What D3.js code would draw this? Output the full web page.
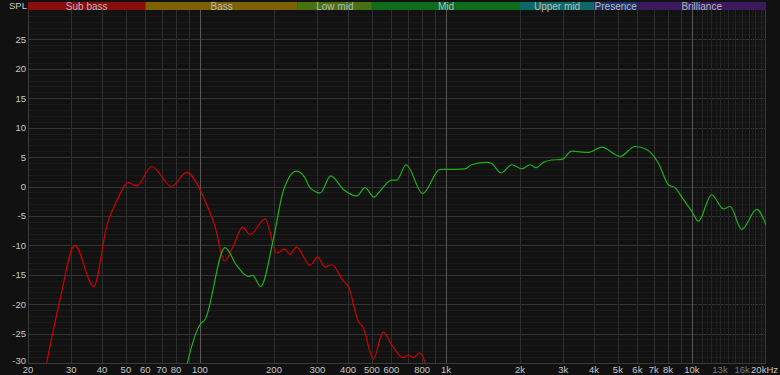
<!DOCTYPE html>
<html>
<head>
<meta charset="utf-8">
<script src="https://cdn.jsdelivr.net/npm/d3@7"></script>
<style>
  html, body { margin: 0; padding: 0; background: #111111; }
  svg { display: block; font-family: "Liberation Sans", Arial, sans-serif; }
</style>
</head>
<body>
<svg id="chart" width="780" height="375"></svg>
<script>
// Frequency bands shown across the top
const bandNames = ["Sub bass", "Bass", "Low mid", "Mid", "Upper mid", "Presence", "Brilliance"];
const bandEdges = [20, 60, 250, 500, 2000, 4000, 6000, 20000];
const bandColors = ["#8a0c0c", "#7c6107", "#497111", "#0e6c1b", "#0d6965", "#19336f", "#3a1a5c"];

// Axis ticks
const yTicks = [25, 20, 15, 10, 5, 0, -5, -10, -15, -20, -25, -30];
const xTickValues = [20, 30, 40, 50, 60, 70, 80, 100, 200, 300, 400, 500, 600, 800,
  1000, 2000, 3000, 4000, 5000, 6000, 7000, 8000, 10000, 13000, 16000, 20000];
const xTickLabels = ["20", "30", "40", "50", "60", "70", "80", "100", "200", "300", "400", "500", "600", "800",
  "1k", "2k", "3k", "4k", "5k", "6k", "7k", "8k", "10k", "13k", "16k", "20kHz"];

// Red trace (low-pass) : frequency Hz, SPL dB
const redFreq = [20, 23.8, 27, 31, 37, 41.8, 46.6, 51, 55.3, 63.7, 76.7, 88.3, 100, 105, 115, 126, 136.7,
  149, 160, 184, 205, 221, 232, 247, 280, 301, 322, 343, 383, 401, 440, 461, 507, 556, 601, 671, 703,
  737, 780, 822, 860];
const redDb = [-45, -30, -19.2, -10, -17, -6.7, -1.9, 0.7, 0.1, 3.4, 0, 2.4, -0.5, -2.5, -6.7, -12.7, -10.1,
  -6.9, -8.2, -5.5, -11.3, -10.6, -11.6, -10.3, -13.4, -12.0, -13.7, -13.3, -16.1, -17, -22.9, -24, -29.3,
  -24.7, -26.9, -29.1, -28.6, -29.1, -28.3, -30, -34];

// Green trace (high-pass)
const greenFreq = [80, 88.9, 100, 104.9, 126.4, 141, 157, 163.7, 176.5, 198.7, 218, 247, 267, 280, 308,
  340, 383, 434, 469, 510, 539, 601, 631, 689, 804, 946, 1000, 1195, 1271, 1466, 1535, 1673, 1852, 2033,
  2199, 2325, 2490, 2693, 2958, 3246, 3797, 4300, 5105, 5866, 6546, 7300, 8020, 8537, 9226, 9980, 10620,
  12025, 13420, 14290, 15930, 18340, 20000];
const greenDb = [-40, -30, -23.5, -22.6, -10.4, -13.4, -15.3, -15.1, -17, -9, -0.8, 2.6, 1.5, -0.2, -1.1,
  1.8, -0.5, -1.6, -0.2, -1.8, -0.8, 1.1, 1.1, 3.7, -1.2, 2.9, 2.9, 3.0, 3.7, 4.1, 3.9, 2.3, 3.7, 3.0,
  3.7, 3.2, 4.1, 4.5, 4.6, 6.0, 5.8, 6.7, 5.1, 6.8, 6.3, 4.0, 0.3, -0.2, -2.2, -4.2, -5.9,
  -1.4, -3.8, -3.4, -7.3, -3.9, -6.5];

const svg = d3.select("#chart");
const plotLeft = 28, plotRight = 766, plotTop = 10, plotBottom = 363;

const x = d3.scaleLog().domain([20, 20000]).range([plotLeft, plotRight]);
const y = d3.scaleLinear().domain([-30, 30]).range([plotBottom, plotTop]);

// plot background
svg.append("rect")
  .attr("x", plotLeft).attr("y", plotTop)
  .attr("width", plotRight - plotLeft).attr("height", plotBottom - plotTop)
  .attr("fill", "#121212");

const grid = svg.append("g");

function hline(d, color) {
  grid.append("line")
    .attr("x1", plotLeft).attr("x2", plotRight)
    .attr("y1", Math.round(y(d)) + 0.5).attr("y2", Math.round(y(d)) + 0.5)
    .attr("stroke", color);
}
function vline(f, color) {
  grid.append("line")
    .attr("x1", Math.round(x(f)) + 0.5).attr("x2", Math.round(x(f)) + 0.5)
    .attr("y1", plotTop).attr("y2", plotBottom)
    .attr("stroke", color);
}

// faint 1 dB lines, then 5 dB lines
d3.range(-29, 30).filter(d => d % 5 !== 0).forEach(d => hline(d, "#1b1b1b"));
d3.range(-25, 30, 5).forEach(d => hline(d, "#343434"));

// faint minor vertical lines above 10k
d3.range(10500, 20000, 500).forEach(f => vline(f, f % 1000 === 0 ? "#262626" : "#1b1b1b"));
// 2..9 x decade lines
[10, 100, 1000].forEach(dec => {
  d3.range(2, 10).forEach(m => {
    const f = m * dec;
    if (f < 20 || f > 20000) return;
    vline(f, "#2e2e2e");
  });
});
// decade lines
[100, 1000, 10000].forEach(f => vline(f, "#575757"));

// frame
svg.append("line").attr("x1", plotLeft + 0.5).attr("x2", plotLeft + 0.5).attr("y1", plotTop).attr("y2", plotBottom).attr("stroke", "#3a3a3a");
svg.append("line").attr("x1", plotRight - 0.5).attr("x2", plotRight - 0.5).attr("y1", plotTop).attr("y2", plotBottom).attr("stroke", "#3a3a3a");
svg.append("line").attr("x1", plotLeft).attr("x2", plotRight).attr("y1", plotBottom + 0.5).attr("y2", plotBottom + 0.5).attr("stroke", "#3a3a3a");

// band bar
const bands = svg.append("g");
bandNames.forEach((name, i) => {
  const x0 = x(bandEdges[i]), x1 = x(bandEdges[i + 1]);
  bands.append("rect")
    .attr("x", x0).attr("y", 2)
    .attr("width", x1 - x0).attr("height", 8)
    .attr("fill", bandColors[i]);
  bands.append("text")
    .attr("x", (x0 + x1) / 2).attr("y", 9.5)
    .attr("text-anchor", "middle")
    .attr("font-size", "10px")
    .attr("fill", "#b8b8b8")
    .text(name);
});

// traces
const clip = svg.append("clipPath").attr("id", "plotclip");
clip.append("rect").attr("x", plotLeft).attr("y", plotTop).attr("width", plotRight - plotLeft).attr("height", plotBottom - plotTop);

const line = d3.line()
  .x(d => x(d[0]))
  .y(d => y(d[1]))
  .curve(d3.curveMonotoneX);

const traces = svg.append("g").attr("clip-path", "url(#plotclip)");
traces.append("path")
  .datum(d3.zip(redFreq, redDb))
  .attr("d", line)
  .attr("fill", "none")
  .attr("stroke", "#d20000")
  .attr("stroke-width", 1.2);
traces.append("path")
  .datum(d3.zip(greenFreq, greenDb))
  .attr("d", line)
  .attr("fill", "none")
  .attr("stroke", "#1cb01c")
  .attr("stroke-width", 1.2);

// y labels
svg.append("g").selectAll("text")
  .data(yTicks)
  .enter().append("text")
  .attr("x", 26).attr("y", d => d === -30 ? y(d) + 1 : y(d) + 3.5)
  .attr("text-anchor", "end")
  .attr("font-size", "9.5px")
  .attr("fill", "#c8c8c8")
  .text(d => d);

svg.append("text")
  .attr("x", 27).attr("y", 9)
  .attr("text-anchor", "end")
  .attr("font-size", "9.5px")
  .attr("fill", "#c8c8c8")
  .text("SPL");

// x labels
svg.append("g").selectAll("text")
  .data(xTickValues)
  .enter().append("text")
  .attr("x", (d, i) => i === xTickValues.length - 1 ? 778 : x(d))
  .attr("y", 373)
  .attr("text-anchor", (d, i) => i === xTickValues.length - 1 ? "end" : "middle")
  .attr("font-size", "9.5px")
  .attr("fill", d => (d === 13000 || d === 16000) ? "#7a7a7a" : "#c8c8c8")
  .text((d, i) => xTickLabels[i]);
</script>
</body>
</html>
